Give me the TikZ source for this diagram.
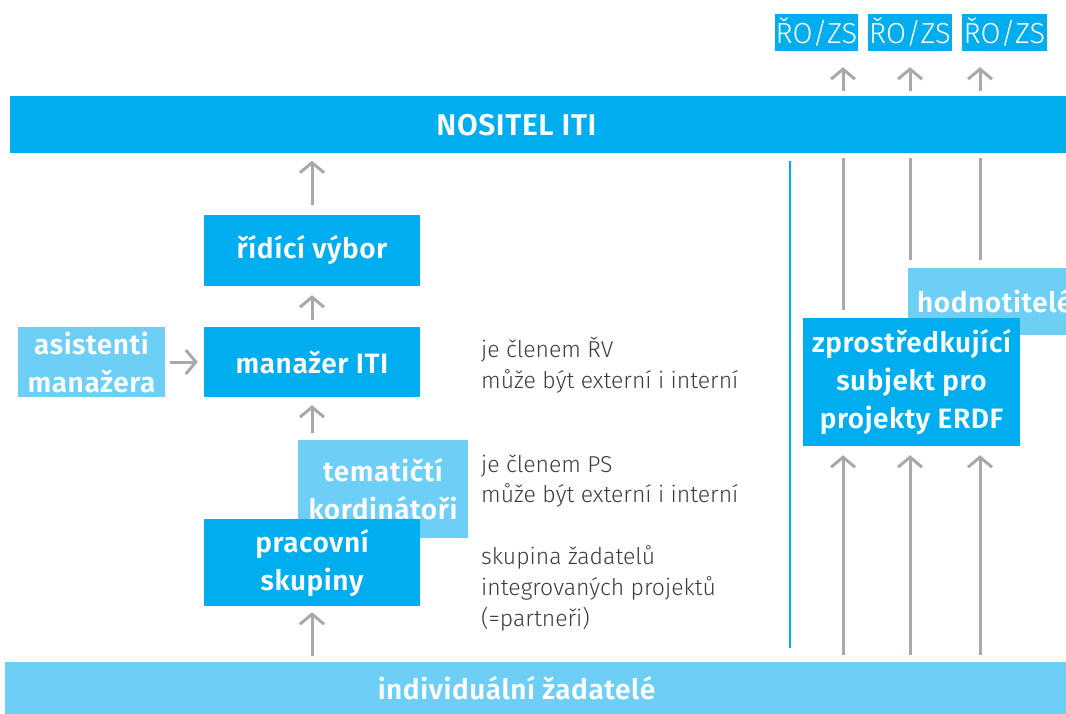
\documentclass[tikz,border=0pt]{standalone}
\usepackage{fontspec}
\setmainfont{Fira Sans}[BoldFont={Fira Sans SemiBold}]
\newfontfamily\lightfont{Fira Sans Light}
\newfontfamily\boxfont{Fira Sans SemiBold}[LetterSpace=2]
\usetikzlibrary{arrows.meta}
\definecolor{itiblue}{HTML}{00AEEF}
\definecolor{itilight}{HTML}{6DCFF6}
\definecolor{itigray}{HTML}{A7A9AC}
\definecolor{itetext}{HTML}{3C3C3C}
\begin{document}
\begin{tikzpicture}[x=1pt,y=-1pt,
                        box/.style={
                        fill=itiblue, text=white,
                        font=\boxfont\fontsize{28}{38}\selectfont,
                        align=center, inner sep=0pt},
                        lbox/.style={box, fill=itilight},
                        bartext/.style={text=white, inner sep=0pt,
                        font=\boxfont\fontsize{28}{38}\selectfont},
                        rozs/.style={box, font=\lightfont\fontsize{29}{30}\selectfont,
                        minimum height=37pt},
                        arr/.style={draw=itigray, line width=3pt,
                        -{Straight Barb[length=10pt,width=24pt]}},
                        link/.style={draw=itigray, line width=3pt},
                        note/.style={anchor=west, align=left, text=itetext, inner sep=0pt,
                        font=\lightfont\fontsize{23}{31}\selectfont}]
                        \useasboundingbox (0,0) rectangle (1066,714);
                        \begin{scope}
                        \clip (0,0) rectangle (1066,714);
                        \coordinate (c1) at (843,0);
                        \coordinate (c2) at (910,0);
                        \coordinate (c3) at (980,0);
                        \coordinate (sep) at (790,0);
                        \node [box, minimum width=1056pt, minimum height=57pt] (nositel) at (538,125) {};
                        \node [bartext, font=\boxfont\fontsize{30}{38}\selectfont] (nositeltext) at (516.5,125) {NOSITEL ITI};
                        \node [rozs, minimum width=83pt] (rozs1) at (816.5,32.5) {ŘO/ZS};
                        \node [rozs, minimum width=84pt] (rozs2) at (910,32.5) {ŘO/ZS};
                        \node [rozs, minimum width=85pt] (rozs3) at (1004.5,32.5) {ŘO/ZS};
                        \node [box, minimum width=216pt, minimum height=71pt] (ridici) at (312,250.5) {řídící výbor};
                        \node [box, minimum width=216pt, minimum height=70pt] (manazer) at (312,362) {manažer ITI};
                        \node [lbox, minimum width=147pt, minimum height=70pt] (asist) at (91.5,362) {asistenti\\manažera};
                        \node [lbox, minimum width=170pt, minimum height=98pt] (tema) at (383,489) {tematičtí\\kordinátoři};
                        \node [box, minimum width=216pt, minimum height=87pt] (pracovni) at (312,562.5) {pracovní\\skupiny};
                        \node [lbox, minimum width=1061pt, minimum height=52pt] (zadatele) at (535.5,688) {};
                        \node [bartext] (zadateletext) at (516.5,688) {individuální žadatelé};
                        \node [lbox, minimum width=158pt, minimum height=67pt] (hodnot) at (987,301.5) {};
                        \node [bartext, anchor=west] (hodnottext) at (917,301.5) {hodnotitelé};
                        \node [box, minimum width=217pt, minimum height=128pt] (zpro) at (911.5,382) {zprostředkující\\subjekt pro\\projekty ERDF};
                        \node [note] (pozn1) at (481,365) {je členem ŘV\\může být externí i interní};
                        \node [note] (pozn2) at (481,481) {je členem PS\\může být externí i interní};
                        \node [note] (pozn3) at (481,588) {skupina žadatelů\\integrovaných projektů\\(=partneři)};
                        % sipky nahoru k RO/ZS
                        \draw (nositel.north -| c1) edge [arr, shorten <=5pt, shorten >=16pt] (rozs1.south -| c1);
                        \draw (nositel.north -| c2) edge [arr, shorten <=5pt, shorten >=16pt] (rozs2.south -| c2);
                        \draw (nositel.north -| c3) edge [arr, shorten <=5pt, shorten >=16pt] (rozs3.south -| c3);
                        \draw (nositel.south -| c1) edge [link, shorten <=4pt, shorten >=8pt] (zpro.north -| c1);
                        \draw (nositel.south -| c2) edge [link, shorten <=4pt, shorten >=8pt] (hodnot.north -| c2);
                        \draw (nositel.south -| c3) edge [link, shorten <=4pt, shorten >=8pt] (hodnot.north -| c3);
                        \draw (zadatele.north -| c1) edge [arr, shorten <=7pt, shorten >=9pt] (zpro.south -| c1);
                        \draw (zadatele.north -| c2) edge [arr, shorten <=7pt, shorten >=9pt] (zpro.south -| c2);
                        \draw (zadatele.north -| c3) edge [arr, shorten <=7pt, shorten >=9pt] (zpro.south -| c3);
                        \draw (sep |- nositel.south) edge [draw=itiblue, line width=2pt, shorten <=7pt, shorten >=14pt] (sep |- zadatele.north);
                        % leva cast
                        \draw (ridici) edge [arr, shorten <=10pt, shorten >=7pt] (nositel.south -| ridici);
                        \draw (manazer) edge [arr, shorten <=7pt, shorten >=9pt] (ridici);
                        \draw (asist) edge [arr, shorten <=5pt, shorten >=6pt] (manazer);
                        \draw (tema.north -| manazer) edge [arr, shorten <=7pt, shorten >=8pt] (manazer);
                        \draw (zadatele.north -| pracovni) edge [arr, shorten <=6pt, shorten >=6pt] (pracovni);
                        \end{scope}
                \end{tikzpicture}
\end{document}
